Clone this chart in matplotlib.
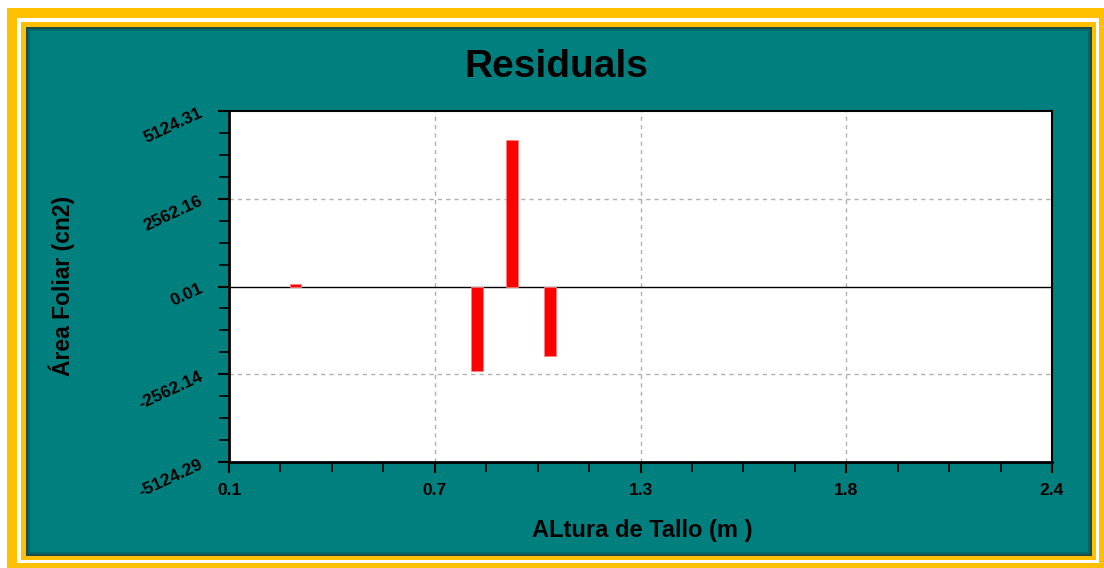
import matplotlib
matplotlib.use('Agg')
import matplotlib.pyplot as plt
from matplotlib.patches import Rectangle
from matplotlib.ticker import FixedLocator, AutoMinorLocator

plt.rcParams['font.family'] = ['Liberation Sans', 'DejaVu Sans']

# datos de los residuos
altura = [0.286, 0.792, 0.892, 0.996]
residuo = [60, -2480, 4280, -2040]

# ejes
x_min, x_max = 0.1, 2.4
y_min, y_max = -5124.29, 5124.31
x_ticks = [0.1, 0.675, 1.25, 1.825, 2.4]
x_labels = ['0.1', '0.7', '1.3', '1.8', '2.4']
y_ticks = [-5124.29, -2562.14, 0.01, 2562.16, 5124.31]
y_labels = ['-5124.29', '-2562.14', '0.01', '2562.16', '5124.31']

W, H = 1104, 568
fig = plt.figure(figsize=(W / 100, H / 100), dpi=100)
fig.patch.set_facecolor('white')


def caja(x0, y0, x1, y1, color, z):
    # rectangulo en pixeles (origen arriba a la izquierda)
    r = Rectangle((x0 / W, 1 - y1 / H), (x1 - x0) / W, (y1 - y0) / H,
                  transform=fig.transFigure, facecolor=color,
                  edgecolor='none', zorder=z)
    fig.add_artist(r)


# marco dorado y panel verde
caja(7, 8, 1104, 568, '#FFC000', -10)
caja(17, 18, 1099, 563, 'white', -9)
caja(21, 22, 1096, 560, '#FFC000', -8)
caja(26, 27, 1092, 556, '#1f4a4a', -7)
caja(28, 29, 1090, 554, '#006a6a', -6)
caja(30, 31, 1088, 552, '#007F7F', -5)

ax = fig.add_axes([229 / W, 1 - 462 / H, (1052 - 229) / W, (462 - 111) / H])
ax.set_facecolor('white')

ax.bar(altura, residuo, width=0.033, color='#FF0000', edgecolor='#ff8080',
       linewidth=0.6, zorder=3)
ax.axhline(0.01, color='black', linewidth=1.0, zorder=2)

ax.set_xlim(x_min, x_max)
ax.set_ylim(y_min, y_max)
ax.xaxis.set_major_locator(FixedLocator(x_ticks))
ax.yaxis.set_major_locator(FixedLocator(y_ticks))
ax.xaxis.set_minor_locator(AutoMinorLocator(4))
ax.yaxis.set_minor_locator(AutoMinorLocator(4))
ax.set_xticklabels(x_labels, fontsize=12.5, fontweight='bold')
ax.set_yticklabels(y_labels, fontsize=12.5, fontweight='bold',
                   rotation=25, ha='right', rotation_mode='anchor')

ax.tick_params(which='major', direction='out', length=8, width=1.5, color='black')
ax.tick_params(which='minor', direction='out', length=7, width=1.2, color='black')
ax.tick_params(axis='x', pad=7)
ax.tick_params(axis='y', pad=12)

for g in y_ticks[1:-1]:
    if g != 0.01:
        ax.axhline(g, color='#b0b0b0', linewidth=1, linestyle=(0, (3, 3)), zorder=1)
for g in x_ticks[1:-1]:
    ax.axvline(g, color='#b0b0b0', linewidth=1, linestyle=(0, (3, 3)), zorder=1)

for s in ax.spines.values():
    s.set_color('black')
    s.set_linewidth(1.5)
ax.spines['left'].set_linewidth(2)
ax.spines['bottom'].set_linewidth(2)

fig.text(556 / W, 1 - 67 / H, 'Residuals', fontsize=28, fontweight='bold',
         ha='center', va='center')
fig.text(642 / W, 1 - 530 / H, 'ALtura de Tallo (m )', fontsize=17,
         fontweight='bold', ha='center', va='center')
fig.text(62 / W, 1 - 286 / H, 'Área Foliar (cn2)', fontsize=16.5,
         fontweight='bold', ha='center', va='center', rotation=90)

fig.savefig('out.png', dpi=100)
